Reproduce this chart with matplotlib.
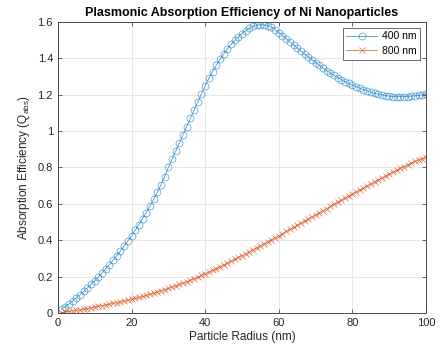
import matplotlib
matplotlib.use("Agg")
import matplotlib.pyplot as plt

plt.rcParams['font.family'] = ['Liberation Sans', 'DejaVu Sans']
plt.rcParams['mathtext.fontset'] = 'custom'
plt.rcParams['mathtext.rm'] = 'Liberation Sans'
plt.rcParams['mathtext.it'] = 'Liberation Sans'

radius = list(range(1, 101))

q_400 = [0.020, 0.035, 0.050, 0.066, 0.083, 0.100, 0.118, 0.137, 0.157, 0.177,
         0.198, 0.220, 0.243, 0.266, 0.290, 0.315, 0.341, 0.368, 0.396, 0.425,
         0.455, 0.486, 0.518, 0.552, 0.588, 0.625, 0.664, 0.705, 0.750, 0.800,
         0.845, 0.890, 0.935, 0.980, 1.025, 1.070, 1.115, 1.160, 1.205, 1.250,
         1.290, 1.327, 1.362, 1.394, 1.424, 1.451, 1.476, 1.498, 1.518, 1.536,
         1.552, 1.565, 1.575, 1.582, 1.585, 1.584, 1.580, 1.572, 1.558, 1.541,
         1.525, 1.508, 1.491, 1.474, 1.457, 1.440, 1.424, 1.408, 1.392, 1.377,
         1.362, 1.347, 1.333, 1.319, 1.306, 1.294, 1.283, 1.272, 1.262, 1.253,
         1.244, 1.236, 1.228, 1.221, 1.214, 1.208, 1.203, 1.199, 1.195, 1.192,
         1.190, 1.189, 1.189, 1.189, 1.190, 1.192, 1.194, 1.197, 1.200, 1.203]

q_800 = [0.002, 0.005, 0.008, 0.011, 0.014, 0.017, 0.020, 0.024, 0.028, 0.032,
         0.036, 0.040, 0.044, 0.048, 0.052, 0.056, 0.061, 0.065, 0.070, 0.075,
         0.080, 0.085, 0.091, 0.096, 0.102, 0.108, 0.114, 0.121, 0.128, 0.135,
         0.142, 0.149, 0.157, 0.164, 0.172, 0.180, 0.188, 0.197, 0.206, 0.215,
         0.224, 0.234, 0.244, 0.254, 0.264, 0.274, 0.284, 0.294, 0.305, 0.315,
         0.326, 0.337, 0.348, 0.359, 0.370, 0.381, 0.392, 0.403, 0.414, 0.425,
         0.436, 0.448, 0.459, 0.471, 0.482, 0.494, 0.505, 0.517, 0.528, 0.540,
         0.551, 0.563, 0.574, 0.586, 0.597, 0.609, 0.620, 0.632, 0.643, 0.655,
         0.666, 0.677, 0.688, 0.699, 0.710, 0.721, 0.732, 0.743, 0.754, 0.765,
         0.775, 0.785, 0.795, 0.805, 0.815, 0.824, 0.833, 0.841, 0.848, 0.855]

labels = ['400 nm', '800 nm']
xticks = [0, 20, 40, 60, 80, 100]
yticks = [0, 0.2, 0.4, 0.6, 0.8, 1.0, 1.2, 1.4, 1.6]
ytick_labels = ['0', '0.2', '0.4', '0.6', '0.8', '1', '1.2', '1.4', '1.6']

c_blue = '#0072BD'
c_orange = '#D95319'
axcol = '#4d4d4d'

fig = plt.figure(figsize=(4.42, 3.54), dpi=100)
ax = fig.add_axes([0.131, 0.116, 0.833, 0.822])

ax.plot(radius, q_400, color=c_blue, lw=0.6, marker='o', markersize=5,
        markerfacecolor='none', markeredgewidth=0.5, alpha=0.7, label=labels[0])
ax.plot(radius, q_800, color=c_orange, lw=0.6, marker='x', markersize=4.5,
        markeredgewidth=0.5, alpha=0.8, label=labels[1])

ax.set_xlim(0, 100)
ax.set_ylim(0, 1.6)
ax.set_xticks(xticks)
ax.set_yticks(yticks)
ax.set_yticklabels(ytick_labels)
ax.grid(True, color='#e3e3e3', lw=0.6)
ax.set_axisbelow(True)
ax.tick_params(direction='in', length=3, width=0.6, colors=axcol, labelsize=8,
               top=True, right=True, labelcolor='#262626')
for s in ax.spines.values():
    s.set_color(axcol)
    s.set_linewidth(0.7)

ax.set_xlabel('Particle Radius (nm)', fontsize=8.5, color='#262626', labelpad=2)
ax.set_ylabel('Absorption Efficiency (Q$_{\\mathrm{abs}}$)', fontsize=8.5,
              color='#262626', labelpad=4)
ax.set_title('Plasmonic Absorption Efficiency of Ni Nanoparticles',
             fontsize=9, fontweight='bold', color='black', pad=4)

leg = ax.legend(loc='upper right', fontsize=7.5, frameon=True, fancybox=False,
                edgecolor=axcol, framealpha=1, borderpad=0.35, handlelength=3.0,
                handletextpad=0.45, labelspacing=0.45, borderaxespad=0.55)
leg.get_frame().set_linewidth(0.6)

fig.savefig('out.png', dpi=100, facecolor='white')
